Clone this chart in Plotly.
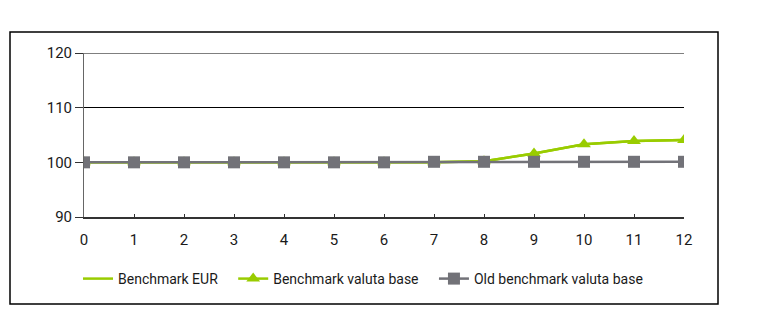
import plotly.graph_objects as go

# months on the x axis
months = list(range(13))

bench_eur = [100, 100, 100, 100, 100, 100, 100, 100, 100.2, 101.6, 103.3, 103.9, 104.1]
bench_valuta = [100, 100, 100, 100, 100, 100, 100, 100, 100.2, 101.6, 103.3, 103.9, 104.1]
old_bench_valuta = [100, 100, 100, 100, 100, 100, 100, 100.1, 100.1, 100.1, 100.1, 100.1, 100.1]

y_ticks = [90, 100, 110, 120]

GREEN = "#99cc00"
GREY = "#727278"
FONT = "Roboto, Liberation Sans, sans-serif"
PAD = "\u00a0\u00a0\u00a0"  # a little extra room between legend entries

fig = go.Figure()
fig.add_trace(go.Scatter(
    x=months, y=bench_eur, mode="lines", name="Benchmark EUR" + PAD,
    line=dict(color=GREEN, width=2.5),
))
fig.add_trace(go.Scatter(
    x=months, y=bench_valuta, mode="lines+markers", name="Benchmark valuta base" + PAD,
    line=dict(color=GREEN, width=2.5),
    marker=dict(symbol="triangle-up", size=12, color=GREEN),
))
fig.add_trace(go.Scatter(
    x=months, y=old_bench_valuta, mode="lines+markers", name="Old benchmark valuta base",
    line=dict(color=GREY, width=2.5),
    marker=dict(symbol="square", size=12, color=GREY),
))

# the page body adds an 8px margin, so the figure is a bit smaller
W, H = 752, 323
L, R, T, B = 76, 76, 45, 114
ph = H - T - B
pw = W - L - R


def px(x):
    return (x - L) / pw


def py(y):
    return (H - B - y) / ph


shapes = [
    # outer frame of the chart
    dict(type="rect", xref="paper", yref="paper",
         x0=px(2), x1=px(710), y0=py(296), y1=py(24),
         line=dict(color="black", width=1.5), layer="below"),
    # plotly skips the grid line on the top edge, so add it back
    dict(type="line", xref="paper", yref="y", x0=0, x1=1,
         y0=y_ticks[-1], y1=y_ticks[-1], line=dict(color="black", width=1.2)),
]

fig.update_layout(
    width=W, height=H,
    margin=dict(l=L, r=R, t=T, b=B),
    paper_bgcolor="white", plot_bgcolor="white",
    font=dict(family=FONT, size=15, color="#1a1a1a"),
    shapes=shapes,
    showlegend=True,
    legend=dict(orientation="h", x=px(70), xanchor="left", y=py(271), yanchor="middle",
                font=dict(family=FONT, size=14, color="#1a1a1a"),
                itemwidth=30, traceorder="normal"),
    xaxis=dict(range=[0, 12], tickvals=months, showgrid=False, zeroline=False,
               showline=True, linecolor="#333333", linewidth=1.5,
               ticks="inside", ticklen=3, tickcolor="#333333", ticklabelstandoff=8),
    yaxis=dict(range=[90, 120], tickvals=y_ticks, showgrid=True, gridcolor="black",
               gridwidth=1.2, zeroline=False, showline=True, linecolor="#666666",
               linewidth=1, ticks="outside", ticklen=8, tickcolor="#333333"),
)

fig.write_html("out.html")
